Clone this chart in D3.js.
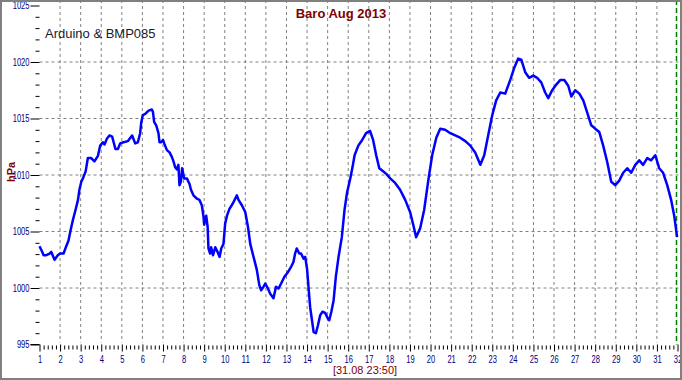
<!DOCTYPE html>
<html>
<head>
<meta charset="utf-8">
<script src="https://cdn.jsdelivr.net/npm/d3@7"></script>
<style>
  body { margin: 0; background: #fff; }
  text { font-family: Arial, "Liberation Sans", sans-serif; }
</style>
</head>
<body>
<div id="chart"></div>
<script>
// day of month (fractional) and pressure in hPa
var days = [1.00,1.13,1.20,1.33,1.49,1.57,1.73,1.89,2.00,2.17,2.30,2.41,2.51,2.62,2.75,2.87,2.94,3.03,3.11,3.24,
  3.35,3.51,3.67,3.84,3.95,4.08,4.16,4.27,4.40,4.53,4.69,4.81,4.92,5.08,5.30,5.50,5.65,5.78,5.89,5.94,
  6.02,6.14,6.30,6.46,6.51,6.57,6.67,6.78,6.83,6.91,7.00,7.06,7.19,7.32,7.43,7.51,7.59,7.68,7.75,7.80,
  7.87,7.93,8.03,8.16,8.29,8.36,8.48,8.65,8.77,8.89,8.97,9.00,9.10,9.17,9.21,9.29,9.34,9.43,9.54,9.65,
  9.75,9.83,9.94,10.02,10.11,10.23,10.40,10.59,10.67,10.84,11.00,11.13,11.24,11.40,11.56,11.68,11.77,11.88,11.97,12.10,
  12.21,12.37,12.49,12.61,12.74,12.90,13.07,13.23,13.34,13.42,13.50,13.62,13.71,13.83,13.91,14.00,14.07,14.15,14.24,14.32,
  14.43,14.53,14.64,14.75,14.88,15.01,15.08,15.18,15.29,15.40,15.53,15.69,15.82,15.94,16.10,16.21,16.31,16.49,16.68,16.87,
  17.06,17.21,17.36,17.51,17.65,17.85,18.04,18.28,18.52,18.77,19.01,19.16,19.30,19.50,19.69,19.89,20.08,20.28,20.47,20.71,
  20.96,21.20,21.44,21.69,21.93,22.17,22.42,22.61,22.80,23.00,23.19,23.39,23.63,23.87,24.07,24.26,24.41,24.60,24.79,24.99,
  25.18,25.38,25.57,25.72,25.91,26.11,26.30,26.50,26.69,26.84,27.03,27.23,27.42,27.61,27.81,28.00,28.20,28.39,28.59,28.78,
  28.98,29.17,29.36,29.56,29.75,29.95,30.14,30.33,30.53,30.72,30.92,31.11,31.30,31.50,31.69,31.84,31.98];

var hpa = [1003.7,1003.2,1002.9,1002.9,1003.05,1003.2,1002.5,1002.9,1003.05,1003.05,1003.7,1004.2,1005.1,1006.0,1006.9,1007.8,1008.7,1009.4,1009.7,1010.3,
  1011.5,1011.5,1011.2,1011.7,1012.6,1012.9,1012.7,1013.2,1013.5,1013.4,1012.3,1012.3,1012.8,1012.9,1013.0,1013.5,1012.8,1012.9,1013.7,1014.6,
  1015.3,1015.4,1015.7,1015.8,1015.6,1014.7,1014.4,1013.7,1012.9,1012.9,1013.1,1012.8,1012.2,1012.0,1011.6,1011.2,1010.7,1010.5,1010.9,1009.1,
  1009.4,1010.6,1009.7,1009.7,1009.2,1008.7,1008.2,1007.9,1007.8,1007.3,1006.3,1005.6,1006.4,1005.4,1003.5,1003.05,1003.6,1002.9,1003.6,1003.2,
  1002.75,1003.5,1003.9,1005.7,1006.4,1007.0,1007.5,1008.2,1007.8,1007.3,1006.7,1005.4,1003.9,1002.75,1001.6,1000.25,999.8,1000.1,1000.4,999.95,
  999.5,999.1,1000.1,999.95,1000.4,1001.0,1001.4,1001.9,1002.3,1003.05,1003.5,1003.05,1003.05,1002.6,1002.75,1001.7,1000.1,998.3,997.15,996.1,
  996.0,996.7,997.6,997.9,997.8,997.3,997.15,997.9,998.9,1001.0,1002.75,1004.5,1006.9,1008.4,1009.7,1010.7,1011.75,1012.6,1013.1,1013.7,
  1013.9,1013.1,1011.75,1010.6,1010.4,1010.1,1009.7,1009.3,1008.7,1007.8,1006.7,1005.6,1004.5,1005.3,1006.9,1009.5,1011.75,1013.3,1014.1,1014.0,
  1013.7,1013.5,1013.3,1013.0,1012.6,1012.0,1010.9,1011.75,1013.5,1015.3,1016.6,1017.3,1017.2,1018.4,1019.5,1020.3,1020.2,1019.1,1018.6,1018.8,
  1018.6,1018.2,1017.3,1016.8,1017.5,1018.0,1018.4,1018.4,1017.9,1016.95,1017.5,1017.2,1016.6,1015.55,1014.4,1014.1,1013.8,1012.6,1011.1,1009.4,
  1009.1,1009.5,1010.2,1010.6,1010.2,1010.9,1011.3,1010.9,1011.5,1011.3,1011.75,1010.6,1010.2,1009.1,1007.8,1006.4,1004.5];

var yMajor = [995, 1000, 1005, 1010, 1015, 1020, 1025];
var xMajor = d3.range(1, 33);
var title = "Baro Aug 2013";
var subTitle = "Arduino & BMP085";
var yLabel = "hPa";
var stamp = "[31.08 23:50]";

var width = 682, height = 380;
var svg = d3.select("#chart").append("svg")
  .attr("width", width)
  .attr("height", height);

svg.append("rect")
  .attr("x", 0).attr("y", 0)
  .attr("width", width).attr("height", height)
  .attr("fill", "#fff");

var x = d3.scaleLinear().domain([1, 32]).range([39.5, 677.5]);
var y = d3.scaleLinear().domain([995, 1025]).range([344.5, 5.5]);

// grid
svg.append("g").selectAll("line")
  .data(xMajor.slice(1, 31))
  .enter().append("line")
    .attr("x1", d => x(d)).attr("x2", d => x(d))
    .attr("y1", 0).attr("y2", y(995) - 2)
    .attr("stroke", "#808080")
    .attr("stroke-dasharray", "3,3");

svg.append("g").selectAll("line")
  .data(yMajor.slice(1, 6))
  .enter().append("line")
    .attr("x1", x(1)).attr("x2", width)
    .attr("y1", d => y(d)).attr("y2", d => y(d))
    .attr("stroke", "#808080")
    .attr("stroke-dasharray", "3,3");

// current-time marker
svg.append("line")
  .attr("x1", x(32) - 1).attr("x2", x(32) - 1)
  .attr("y1", 0).attr("y2", y(995))
  .attr("stroke", "#008000")
  .attr("stroke-width", 1.5)
  .attr("stroke-dasharray", "5,3");

// y axis
svg.append("g")
  .attr("transform", "translate(" + x(1) + ",0)")
  .call(d3.axisLeft(y).tickValues(yMajor).tickSize(9).tickPadding(1).tickFormat(d3.format("d")));
svg.append("g")
  .attr("transform", "translate(" + x(1) + ",0)")
  .call(d3.axisLeft(y).tickValues(d3.range(995, 1026).filter(d => d % 5)).tickSize(4).tickFormat(""));

// x axis
svg.append("g")
  .attr("transform", "translate(0," + y(995) + ")")
  .call(d3.axisBottom(x).tickValues(xMajor).tickSize(7).tickPadding(4).tickFormat(d3.format("d")));
svg.append("g")
  .attr("transform", "translate(0," + (y(995) + 1) + ")")
  .call(d3.axisBottom(x).tickValues(d3.range(0, 155).map(i => 1 + i * 0.2).filter((d, i) => i % 5)).tickSize(4).tickFormat(""));

svg.selectAll(".domain").remove();
svg.selectAll(".tick line").attr("stroke", "#000");
svg.selectAll(".tick text")
  .attr("fill", "#000080")
  .style("font-size", "10px")
  .attr("textLength", function() { return this.textContent.length * 4.2; })
  .attr("lengthAdjust", "spacingAndGlyphs");

// 995 tick joins the first day tick
svg.append("line")
  .attr("x1", x(1) - 9).attr("x2", x(1))
  .attr("y1", y(995)).attr("y2", y(995))
  .attr("stroke", "#000");

// series
var pts = days.map((d, i) => [d, hpa[i]]);
svg.append("path")
  .datum(pts)
  .attr("fill", "none")
  .attr("stroke", "#0000ff")
  .attr("stroke-width", 2.5)
  .attr("stroke-linejoin", "round")
  .attr("d", d3.line().x(d => x(d[0])).y(d => y(d[1])));

// texts
svg.append("text")
  .attr("x", 341).attr("y", 18)
  .attr("text-anchor", "middle")
  .attr("fill", "#800000")
  .style("font-size", "13px")
  .style("font-weight", "bold")
  .text(title);

svg.append("text")
  .attr("x", 45).attr("y", 38)
  .attr("fill", "#1a1a2e")
  .style("font-size", "13px")
  .text(subTitle);

svg.append("text")
  .attr("transform", "translate(15,172) rotate(-90)")
  .attr("text-anchor", "middle")
  .attr("fill", "#800000")
  .style("font-size", "11px")
  .style("font-weight", "bold")
  .text(yLabel);

svg.append("text")
  .attr("x", 365).attr("y", 374)
  .attr("text-anchor", "middle")
  .attr("fill", "#800000")
  .style("font-size", "11px")
  .text(stamp);

// frame
svg.append("rect")
  .attr("x", 1).attr("y", 1)
  .attr("width", width - 2).attr("height", height - 2)
  .attr("fill", "none")
  .attr("stroke", "#808080")
  .attr("stroke-width", 2);
</script>
</body>
</html>
